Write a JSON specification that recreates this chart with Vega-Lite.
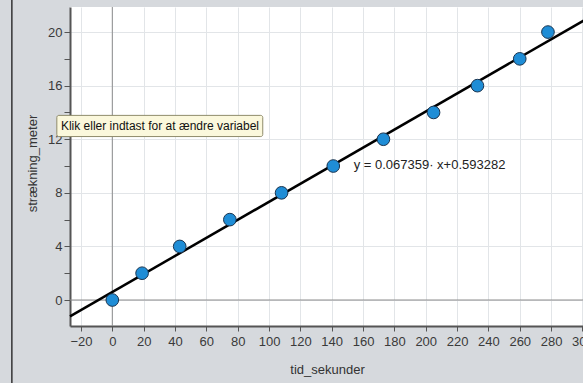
{
  "$schema": "https://vega.github.io/schema/vega-lite/v6.json",
  "width": 514,
  "height": 319,
  "autosize": {"type": "none"},
  "padding": {"left": 70, "top": 7, "right": 0, "bottom": 57},
  "background": "#d6d9dd",
  "config": {
    "view": {"fill": "white", "stroke": null},
    "font": "Liberation Sans",
    "axis": {
      "labelFont": "Liberation Sans",
      "titleFont": "Liberation Sans",
      "labelFontSize": 13,
      "titleFontSize": 13,
      "titleFontWeight": "normal",
      "labelColor": "#3a3a3a",
      "titleColor": "#333333",
      "domainColor": "#555555",
      "domainWidth": 2,
      "tickColor": "#555555",
      "tickWidth": 1,
      "gridColor": "#e2e5e8",
      "gridWidth": 1,
      "labelOverlap": false
    }
  },
  "datasets": {
    "pts": [
      {"tid_sekunder": 0, "strækning_meter": 0},
      {"tid_sekunder": 19, "strækning_meter": 2},
      {"tid_sekunder": 43, "strækning_meter": 4},
      {"tid_sekunder": 75, "strækning_meter": 6},
      {"tid_sekunder": 108, "strækning_meter": 8},
      {"tid_sekunder": 141, "strækning_meter": 10},
      {"tid_sekunder": 173, "strækning_meter": 12},
      {"tid_sekunder": 205, "strækning_meter": 14},
      {"tid_sekunder": 233, "strækning_meter": 16},
      {"tid_sekunder": 260, "strækning_meter": 18},
      {"tid_sekunder": 278, "strækning_meter": 20}
    ],
    "fit": [
      {"tid_sekunder": -27, "strækning_meter": -1.2254},
      {"tid_sekunder": 301, "strækning_meter": 20.869}
    ],
    "vzero": [{"tid_sekunder": 0, "strækning_meter": -1.94, "y2": 21.87}],
    "hzero": [{"tid_sekunder": -27, "x2": 301, "strækning_meter": 0}],
    "border": [{"tid_sekunder": -64.1, "strækning_meter": -6.2, "y2": 22.4}],
    "tipbox": [{"tid_sekunder": -35.4, "x2": 96, "strækning_meter": 12.2, "y2": 13.78}],
    "tiptext": [{"tid_sekunder": -32.8, "strækning_meter": 12.99, "label": "Klik eller indtast for at ændre variabel"}],
    "eq": [{"tid_sekunder": 154, "strækning_meter": 10.07, "label": "y = 0.067359· x+0.593282"}]
  },
  "encoding": {
    "x": {
      "field": "tid_sekunder", "type": "quantitative", "title": "tid_sekunder",
      "scale": {"domain": [-27, 301], "nice": false, "zero": false},
      "axis": {
        "values": [-20, 0, 20, 40, 60, 80, 100, 120, 140, 160, 180, 200, 220, 240, 260, 280, 300],
        "labelOverlap": false,
        "labelBound": false,
        "tickSize": 5,
        "labelPadding": 4,
        "titleY": 43,
        "titleBaseline": "middle",
        "grid": true
      }
    },
    "y": {
      "field": "strækning_meter", "type": "quantitative", "title": "strækning_meter",
      "scale": {"domain": [-1.94, 21.87], "nice": false, "zero": false},
      "axis": {
        "values": [0, 2, 4, 6, 8, 10, 12, 14, 16, 18, 20],
        "labelOverlap": false,
        "labelExpr": "datum.value % 4 === 0 ? datum.label : ''",
        "gridOpacity": {"condition": {"test": "datum.value % 4 !== 0", "value": 0}, "value": 1},
        "tickSize": 6,
        "labelPadding": 2,
        "titleX": -38,
        "titleY": 156,
        "titleAngle": -90,
        "titleBaseline": "middle",
        "grid": true,
        "encode": {"ticks": {"update": {"x2": {"signal": "datum.value % 4 === 0 ? -6 : -3"}}}}
      }
    }
  },
  "layer": [
    {
      "data": {"name": "vzero"},
      "mark": {"type": "rule", "color": "#8c8c8c", "strokeWidth": 1},
      "encoding": {"y2": {"field": "y2"}}
    },
    {
      "data": {"name": "hzero"},
      "mark": {"type": "rule", "color": "#8c8c8c", "strokeWidth": 1},
      "encoding": {"x2": {"field": "x2"}}
    },
    {
      "data": {"name": "border"},
      "mark": {"type": "rule", "color": "#333333", "strokeWidth": 1.5, "clip": false},
      "encoding": {"y2": {"field": "y2"}}
    },
    {
      "data": {"name": "fit"},
      "mark": {"type": "line", "color": "#000000", "strokeWidth": 2.5},
      "encoding": {}
    },
    {
      "data": {"name": "pts"},
      "mark": {"type": "point", "filled": true, "fill": "#1f8dd6", "stroke": "#1b3550", "strokeWidth": 1, "size": 160, "opacity": 1}
    },
    {
      "data": {"name": "eq"},
      "mark": {"type": "text", "align": "left", "baseline": "middle", "fontSize": 13, "color": "#222222", "font": "Liberation Sans"},
      "encoding": {"text": {"field": "label"}}
    },
    {
      "data": {"name": "tipbox"},
      "mark": {"type": "rect", "fill": "#fbf8dc", "stroke": "#8f8b6a", "strokeWidth": 1, "cornerRadius": 2, "clip": false},
      "encoding": {"x2": {"field": "x2"}, "y2": {"field": "y2"}}
    },
    {
      "data": {"name": "tiptext"},
      "mark": {"type": "text", "align": "left", "baseline": "middle", "fontSize": 12, "color": "#111111", "font": "Liberation Sans", "clip": false},
      "encoding": {"text": {"field": "label"}}
    }
  ]
}
